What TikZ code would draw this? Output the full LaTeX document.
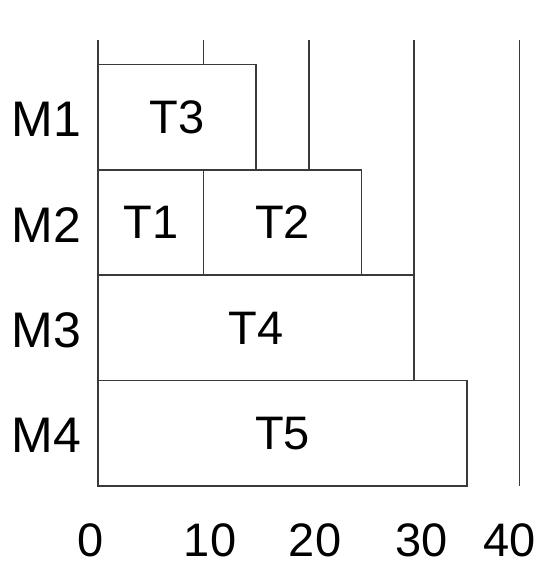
\documentclass[tikz,border=0pt]{standalone}
\usepackage{fontspec}
\setmainfont{Liberation Sans}
\definecolor{edge}{HTML}{3A3A3A}
\tikzset{
  task/.style={draw=edge,line width=1.6pt,fill=white},
  big/.style={font=\fontsize{47}{56}\selectfont,inner sep=0pt},
}

\begin{document}
\begin{tikzpicture}[x=10.54pt,y=10.54pt]
  \useasboundingbox (-9.30,-7.12) rectangle (42.03,46.11);
  % time grid
  \foreach \t in {0,10,...,40}
    \draw[edge,line width=1.6pt] (\t,0) -- (\t,42.3);
  % tasks: start/end/row/name
  \foreach \s/\e/\r/\n in {0/15/3/T3, 0/10/2/T1, 10/25/2/T2, 0/30/1/T4, 0/35/0/T5} {
    \draw[task] (\s,10*\r) rectangle (\e,10*\r+10);
    \node[big] (\n) at ({(\s+\e)/2},{10*\r+5}) {\n};
  }
  % machines
  \foreach \r/\m in {3/M1,2/M2,1/M3,0/M4}
    \node[big,font=\fontsize{50}{60}\selectfont] (\m) at (-4.89,{10*\r+4.8}) {\m};
  % time axis labels
  \foreach \t/\p in {0/-0.72,10/10.63,20/20.6,30/30.68,40/39.04}
    \node[big] (tick\t) at (\p,-5.12) {\t};
\end{tikzpicture}
\end{document}
